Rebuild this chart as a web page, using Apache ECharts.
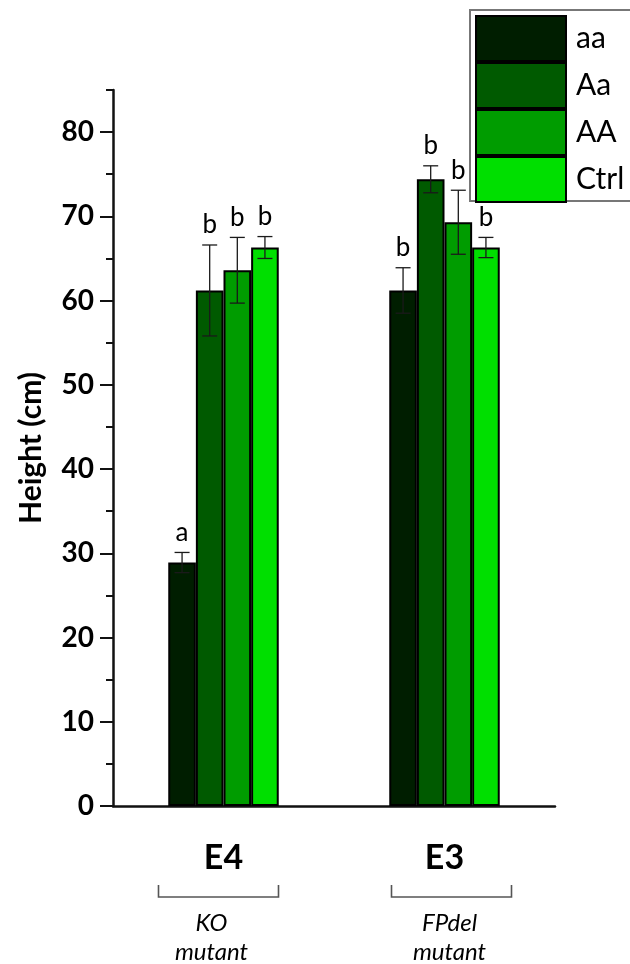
<!DOCTYPE html>
<html>
<head>
<meta charset="utf-8">
<script src="https://cdn.jsdelivr.net/npm/echarts@6/dist/echarts.min.js"></script>
<style>
html,body{margin:0;padding:0;background:#fff;}
#chart{width:630px;height:964px;}
</style>
</head>
<body>
<div id="chart"></div>
<script>
// ---- data ----
const categories = ['E4', 'E3'];
const groups = ['aa', 'Aa', 'AA', 'Ctrl'];
const aaMean = [28.9, 61.2];
const AaMean = [61.2, 74.4];
const AAMean = [63.6, 69.3];
const CtrlMean = [66.3, 66.3];
const aaErr = [1.2, 2.7];
const AaErr = [5.4, 1.6];
const AAErr = [3.9, 3.8];
const CtrlErr = [1.3, 1.2];
const aaSig = ['a', 'b'];
const AaSig = ['b', 'b'];
const AASig = ['b', 'b'];
const CtrlSig = ['b', 'b'];
const subLabelTop = ['KO', 'FPdel'];
const subLabelBottom = ['mutant', 'mutant'];
const yMajorTicks = [0, 10, 20, 30, 40, 50, 60, 70, 80];
const yMinorTicks = [5, 15, 25, 35, 45, 55, 65, 75, 85];
const yMin = 0, yMax = 85;

const colors = ['#001e00', '#005a00', '#009c00', '#00df00'];
const means = [aaMean, AaMean, AAMean, CtrlMean];
const errs = [aaErr, AaErr, AAErr, CtrlErr];
const sigs = [aaSig, AaSig, AASig, CtrlSig];
const FONT = 'Lato, "Open Sans", sans-serif';

const errData = [];
const errLetters = [];
for (let s = 0; s < groups.length; s++) {
  for (let c = 0; c < categories.length; c++) {
    errData.push([c, s, means[s][c], errs[s][c]]);
    errLetters.push(sigs[s][c]);
  }
}

const chart = echarts.init(document.getElementById('chart'), null, {renderer: 'canvas'});

const barSeries = groups.map((g, i) => ({
  name: g,
  type: 'bar',
  data: means[i],
  barGap: '0%',
  barCategoryGap: '50%',
  itemStyle: {color: colors[i], borderColor: '#000', borderWidth: 2},
  emphasis: {disabled: true},
  z: 2
}));

const errSeries = {
  type: 'custom',
  data: errData,
  encode: {x: 0, y: 2},
  z: 5,
  silent: true,
  renderItem: function (params, api) {
    const ci = api.value(0), si = api.value(1), v = api.value(2), e = api.value(3);
    const band = api.size([1, 0])[0];
    const bw = band * 0.5 / groups.length;
    const center = api.coord([ci, 0])[0];
    const x = center + (si - (groups.length - 1) / 2) * bw;
    const yTop = api.coord([ci, v + e])[1];
    const yBot = api.coord([ci, v - e])[1];
    const cap = 7.5;
    const st = {stroke: '#1a1a1a', lineWidth: 1.3};
    return {
      type: 'group',
      children: [
        {type: 'line', shape: {x1: x, y1: yTop, x2: x, y2: yBot}, style: st},
        {type: 'line', shape: {x1: x - cap, y1: yTop, x2: x + cap, y2: yTop}, style: st},
        {type: 'line', shape: {x1: x - cap, y1: yBot, x2: x + cap, y2: yBot}, style: st},
        {type: 'text', x: x, y: yTop - 7, style: {
          text: errLetters[params.dataIndex], fill: '#000', font: '26px ' + FONT,
          align: 'center', verticalAlign: 'bottom'}}
      ]
    };
  }
};

const option = {
  animation: false,
  backgroundColor: '#fff',
  grid: {left: 113, right: 75, top: 90, bottom: 158, containLabel: false},
  legend: {
    data: groups,
    orient: 'vertical',
    left: 470, top: 10,
    itemWidth: 90, itemHeight: 45, itemGap: 0,
    icon: 'rect',
    padding: 5,
    borderWidth: 0,
    textStyle: {fontSize: 30, fontFamily: FONT, color: '#000', padding: [0, 0, 0, 5]},
    selectedMode: false
  },
  xAxis: {
    type: 'category',
    data: categories,
    axisLine: {lineStyle: {color: '#111', width: 2.5}},
    axisTick: {alignWithLabel: true, length: 12, lineStyle: {color: '#111', width: 2}},
    axisLabel: {fontSize: 34, fontWeight: 'bold', fontFamily: FONT, color: '#000', margin: 35},
    splitLine: {show: false}
  },
  yAxis: [{
    type: 'value', min: yMin, max: yMax,
    name: 'Height (cm)', nameLocation: 'middle', nameGap: 67,
    nameTextStyle: {fontSize: 30, fontWeight: 'bold', fontFamily: FONT, color: '#000'},
    axisLine: {show: true, lineStyle: {color: '#111', width: 2.5}},
    axisTick: {show: true, length: 13, customValues: yMajorTicks, lineStyle: {color: '#111', width: 2}},
    axisLabel: {fontSize: 28, fontWeight: 'bold', fontFamily: FONT, color: '#000', margin: 19, customValues: yMajorTicks},
    splitLine: {show: false}
  }, {
    type: 'value', min: yMin, max: yMax, position: 'left',
    axisLine: {show: false},
    axisTick: {show: true, length: 7, customValues: yMinorTicks, lineStyle: {color: '#111', width: 2}},
    axisLabel: {show: false},
    splitLine: {show: false}
  }],
  series: barSeries.concat([errSeries])
};

chart.setOption(option);

// legend frame (extends past the right edge, as in the original figure)
const graphics = [{
  type: 'rect', z: -1,
  shape: {x: 470, y: 10, width: 200, height: 191},
  style: {stroke: '#777', lineWidth: 2, fill: '#fff'}
}];

// bracket annotations under the category labels
const y0 = chart.convertToPixel({yAxisIndex: 0}, 0);
const bracketShift = [-5, 7];
const textShift = [-12, 5];
categories.forEach((c, i) => {
  const cx = chart.convertToPixel({xAxisIndex: 0}, i);
  const bx = cx + bracketShift[i];
  graphics.push({
    type: 'polyline',
    shape: {points: [[bx - 60, y0 + 79], [bx - 60, y0 + 91], [bx + 60, y0 + 91], [bx + 60, y0 + 79]]},
    style: {stroke: '#555', lineWidth: 1.6, fill: null}
  });
  const tx = cx + textShift[i];
  graphics.push({
    type: 'text', x: tx, y: y0 + 117,
    style: {text: subLabelTop[i], font: 'italic 24px ' + FONT, fill: '#000', align: 'center', verticalAlign: 'middle'}
  });
  graphics.push({
    type: 'text', x: tx, y: y0 + 146,
    style: {text: subLabelBottom[i], font: 'italic 24px ' + FONT, fill: '#000', align: 'center', verticalAlign: 'middle'}
  });
});
chart.setOption({graphic: graphics});
</script>
</body>
</html>
